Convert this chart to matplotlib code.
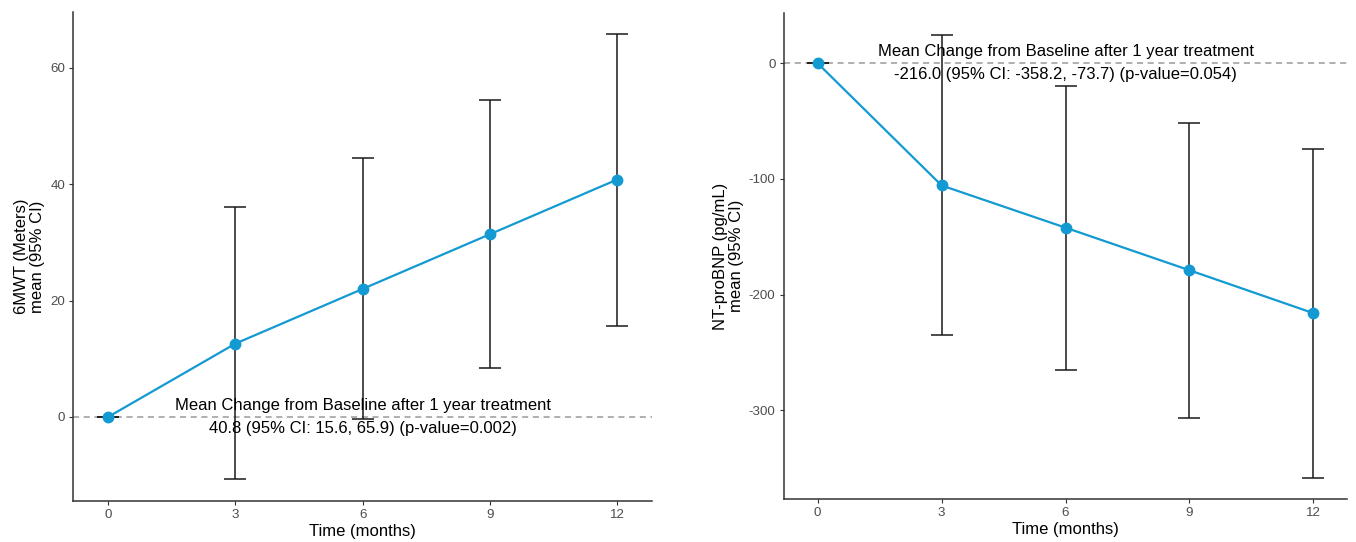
import matplotlib
matplotlib.use("Agg")
import matplotlib.pyplot as plt

plt.rcParams['font.family'] = ['Liberation Sans', 'DejaVu Sans']
plt.rcParams['axes.unicode_minus'] = False

months = [0, 3, 6, 9, 12]

mwt_mean = [0, 12.6, 22.0, 31.4, 40.8]
mwt_lo = [0, -10.7, -0.3, 8.4, 15.6]
mwt_hi = [0, 36.0, 44.5, 54.4, 65.9]

bnp_mean = [0, -105.6, -142.1, -178.9, -216.0]
bnp_lo = [0, -235.1, -265.0, -306.3, -358.2]
bnp_hi = [0, 24.5, -19.7, -51.7, -73.7]

mwt_ylabel = "6MWT (Meters)\nmean (95% CI)"
bnp_ylabel = "NT-proBNP (pg/mL)\nmean (95% CI)"
xlabel = "Time (months)"
mwt_note = "Mean Change from Baseline after 1 year treatment\n40.8 (95% CI: 15.6, 65.9) (p-value=0.002)"
bnp_note = "Mean Change from Baseline after 1 year treatment\n-216.0 (95% CI: -358.2, -73.7) (p-value=0.054)"

mwt_yticks = [0, 20, 40, 60]
bnp_yticks = [0, -100, -200, -300]

BLUE = '#139AD2'
fig = plt.figure(figsize=(13.56, 5.42), dpi=100)
ax1 = fig.add_axes([0.0541, 0.0762, 0.4267, 0.9017])
ax2 = fig.add_axes([0.578, 0.0793, 0.4156, 0.8962])


def draw(ax, mean, lo, hi, ylabel, note, yticks, ylim):
    ax.axhline(0, color='#9a9a9a', lw=1.1, ls=(0, (4, 3)), zorder=1)
    yerr = [[m - l for m, l in zip(mean, lo)], [h - m for m, h in zip(mean, hi)]]
    ax.errorbar(months, mean, yerr=yerr, fmt='none', ecolor='#1a1a1a',
                elinewidth=1.1, capsize=8, capthick=1.1, zorder=2)
    ax.plot(months, mean, color=BLUE, lw=1.6, zorder=3)
    ax.plot(months, mean, 'o', color=BLUE, ms=7.5, zorder=4)
    ax.text(6, 0, note, ha='center', va='center', fontsize=12,
            linespacing=1.68, color='black', zorder=5)
    ax.set_xlim(-0.82, 12.82)
    ax.set_ylim(*ylim)
    ax.set_xticks(months)
    ax.set_yticks(yticks)
    for s in ['top', 'right']:
        ax.spines[s].set_visible(False)
    for s in ['left', 'bottom']:
        ax.spines[s].set_color('#333333')
        ax.spines[s].set_linewidth(1.1)
    ax.tick_params(axis='both', colors='#333333', labelcolor='#4d4d4d',
                   labelsize=9.6, length=3, width=0.8, pad=3)
    ax.set_xlabel(xlabel, fontsize=12, labelpad=2)
    ax.set_ylabel(ylabel, fontsize=12, labelpad=3.5, linespacing=1.08)


draw(ax1, mwt_mean, mwt_lo, mwt_hi, mwt_ylabel, mwt_note, mwt_yticks, (-14.4, 69.6))
draw(ax2, bnp_mean, bnp_lo, bnp_hi, bnp_ylabel, bnp_note, bnp_yticks, (-376.6, 43.2))

fig.savefig('out.png', dpi=100)
